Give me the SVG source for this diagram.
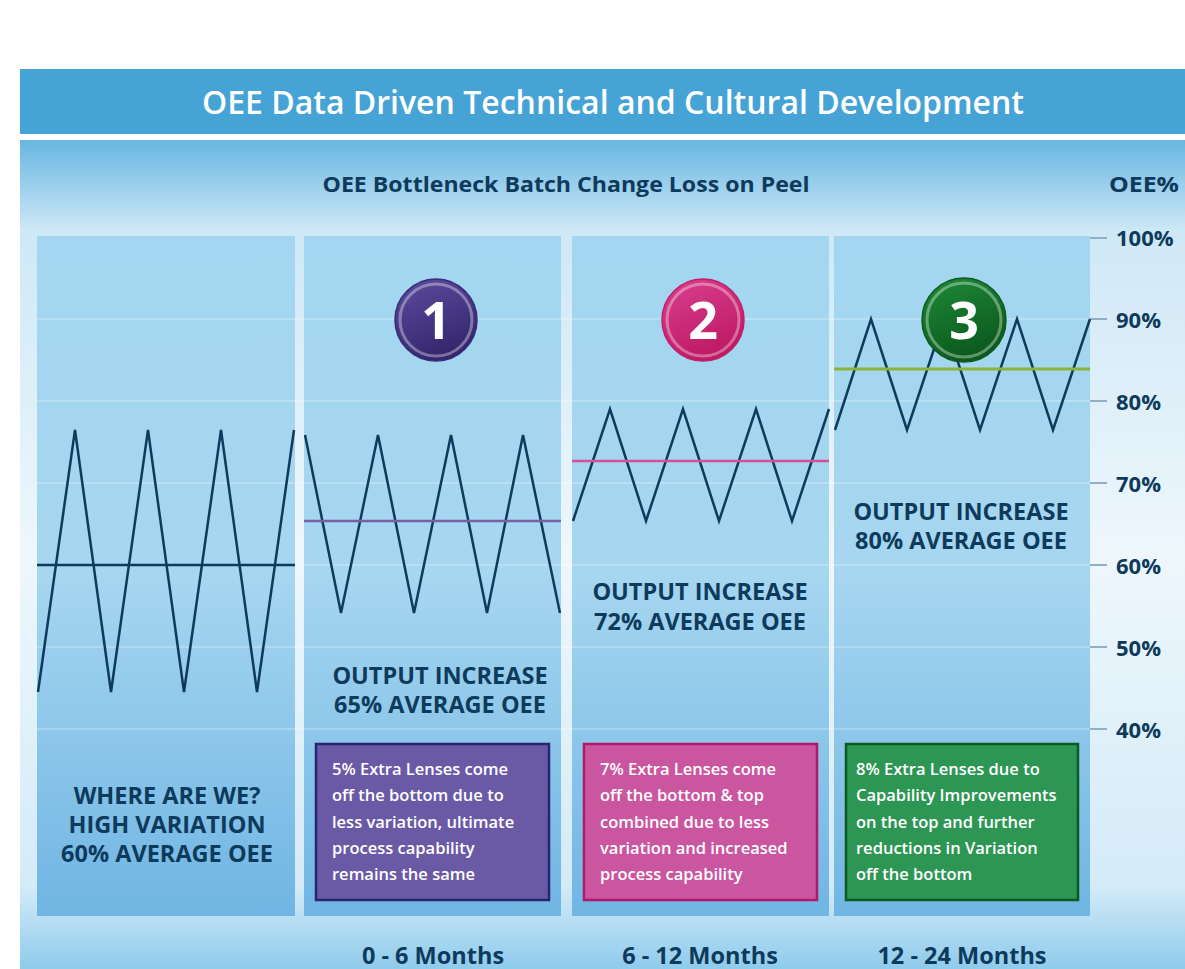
<svg xmlns="http://www.w3.org/2000/svg" width="1185" height="969" viewBox="0 0 1185 969">
<defs>
<linearGradient id="panel" x1="0" y1="140" x2="0" y2="969" gradientUnits="userSpaceOnUse">
<stop offset="0" stop-color="#68b6e2"/>
<stop offset="0.11" stop-color="#cfe8f6"/>
<stop offset="0.5" stop-color="#eef7fc"/>
<stop offset="0.9" stop-color="#d4ebf8"/>
<stop offset="1" stop-color="#8fcbec"/>
</linearGradient>
<linearGradient id="col" x1="0" y1="236" x2="0" y2="916" gradientUnits="userSpaceOnUse">
<stop offset="0" stop-color="#a3d6f0"/>
<stop offset="0.5" stop-color="#a6d6f0"/>
<stop offset="1" stop-color="#70b5e3"/>
</linearGradient>
<linearGradient id="g1" x1="0" y1="0" x2="0.4" y2="1">
<stop offset="0" stop-color="#5d4d9f"/>
<stop offset="1" stop-color="#35266f"/>
</linearGradient>
<linearGradient id="g2" x1="0" y1="0" x2="0.4" y2="1">
<stop offset="0" stop-color="#d8418f"/>
<stop offset="1" stop-color="#bf1a66"/>
</linearGradient>
<linearGradient id="g3" x1="0" y1="0" x2="0.4" y2="1">
<stop offset="0" stop-color="#1f8a3a"/>
<stop offset="1" stop-color="#0b5a1c"/>
</linearGradient>
<style>
.t{font-family:"Open Sans","Liberation Sans",sans-serif;font-weight:700;fill:#0e3a5c;}
.big{font-size:23.5px;text-anchor:middle;}
.ax{font-size:22px;}
.box{font-family:"Open Sans","Liberation Sans",sans-serif;font-weight:600;font-size:16.5px;fill:#ffffff;}
.zig{fill:none;stroke:#0e3a5c;stroke-width:2.5;stroke-linejoin:miter;}
.grid{stroke:#ffffff;stroke-opacity:0.45;stroke-width:1.2;}
.tick{stroke:#93afc4;stroke-width:2;}
.num{font-family:"Open Sans","Liberation Sans",sans-serif;font-weight:700;font-size:52px;fill:#ffffff;text-anchor:middle;}
.ring{fill:none;stroke:#ffffff;stroke-opacity:0.35;stroke-width:3;}
</style>
</defs>
<rect x="0" y="0" width="1185" height="969" fill="#ffffff"/>
<g id="header">
<rect x="20" y="69" width="1165" height="65" fill="#45a3d6"/>
<text x="613" y="114" font-family="Open Sans, Liberation Sans, sans-serif" font-weight="600" font-size="32" fill="#ffffff" text-anchor="middle" textLength="822" lengthAdjust="spacingAndGlyphs">OEE Data Driven Technical and Cultural Development</text>
</g>
<g id="panel">
<rect x="20" y="140" width="1165" height="829" fill="url(#panel)"/>
<text class="t" x="566" y="192" font-size="21" text-anchor="middle" textLength="487" lengthAdjust="spacingAndGlyphs">OEE Bottleneck Batch Change Loss on Peel</text>
<text class="t" x="1109" y="192" font-size="21" textLength="70" lengthAdjust="spacingAndGlyphs">OEE%</text>
</g>
<g id="columns">
<rect x="37" y="236" width="258" height="680" fill="url(#col)"/>
<rect x="304" y="236" width="257" height="680" fill="url(#col)"/>
<rect x="572" y="236" width="257" height="680" fill="url(#col)"/>
<rect x="834" y="236" width="256" height="680" fill="url(#col)"/>
</g>
<g id="gridlines">
<line class="grid" x1="37" y1="319" x2="1090" y2="319"/>
<line class="grid" x1="37" y1="401" x2="1090" y2="401"/>
<line class="grid" x1="37" y1="483" x2="1090" y2="483"/>
<line class="grid" x1="37" y1="565" x2="1090" y2="565"/>
<line class="grid" x1="37" y1="647" x2="1090" y2="647"/>
<line class="grid" x1="37" y1="729" x2="1090" y2="729"/>
</g>
<g id="axis">
<line class="tick" x1="1090" y1="238" x2="1107" y2="238"/>
<line class="tick" x1="1090" y1="319" x2="1107" y2="319"/>
<line class="tick" x1="1090" y1="401" x2="1107" y2="401"/>
<line class="tick" x1="1090" y1="483" x2="1107" y2="483"/>
<line class="tick" x1="1090" y1="565" x2="1107" y2="565"/>
<line class="tick" x1="1090" y1="647" x2="1107" y2="647"/>
<line class="tick" x1="1090" y1="729" x2="1107" y2="729"/>
<text class="t ax" x="1116" y="246">100%</text>
<text class="t ax" x="1116" y="328">90%</text>
<text class="t ax" x="1116" y="410">80%</text>
<text class="t ax" x="1116" y="492">70%</text>
<text class="t ax" x="1116" y="574">60%</text>
<text class="t ax" x="1116" y="656">50%</text>
<text class="t ax" x="1116" y="738">40%</text>
</g>
<g id="series">
<polyline class="zig" points="38,692 75,430 111,692 148,430 184,692 221,430 257,692 294,430"/>
<line x1="37" y1="565" x2="295" y2="565" stroke="#0e3a5c" stroke-width="2.5"/>
<polyline class="zig" points="305,435 341,613 378,435 414,613 451,435 487,613 523,435 560,613"/>
<line x1="304" y1="521" x2="561" y2="521" stroke="#7a5fa8" stroke-width="2.5"/>
<polyline class="zig" points="573,521 610,409 646,521 683,409 719,521 756,409 792,521 829,409"/>
<line x1="572" y1="461" x2="829" y2="461" stroke="#d94e96" stroke-width="2.5"/>
<polyline class="zig" points="835,430 871,319 907,430 944,319 980,430 1017,319 1053,430 1090,319"/>
<line x1="834" y1="369" x2="1090" y2="369" stroke="#8db43a" stroke-width="3"/>
</g>
<g id="badge1">
<circle cx="436" cy="320" r="41" fill="url(#g1)" stroke="#3a2b78" stroke-width="1.5"/>
<circle class="ring" cx="436" cy="320" r="36"/>
<text class="num" x="436" y="339">1</text>
</g>
<g id="badge2">
<circle cx="703" cy="320" r="41" fill="url(#g2)" stroke="#c21e69" stroke-width="1.5"/>
<circle class="ring" cx="703" cy="320" r="36"/>
<text class="num" x="703" y="339">2</text>
</g>
<g id="badge3">
<circle cx="964" cy="320" r="42" fill="url(#g3)" stroke="#0c5a1e" stroke-width="1.5"/>
<circle class="ring" cx="964" cy="320" r="37"/>
<text class="num" x="964" y="339">3</text>
</g>
<g id="col1-label">
<text class="t big" x="167" y="804">WHERE ARE WE?</text>
<text class="t big" x="167" y="833">HIGH VARIATION</text>
<text class="t big" x="167" y="862">60% AVERAGE OEE</text>
</g>
<g id="col2-label">
<text class="t big" x="440" y="684">OUTPUT INCREASE</text>
<text class="t big" x="440" y="713">65% AVERAGE OEE</text>
</g>
<g id="col3-label">
<text class="t big" x="700" y="600">OUTPUT INCREASE</text>
<text class="t big" x="700" y="630">72% AVERAGE OEE</text>
</g>
<g id="col4-label">
<text class="t big" x="961" y="520">OUTPUT INCREASE</text>
<text class="t big" x="961" y="549">80% AVERAGE OEE</text>
</g>
<g id="box1">
<rect x="316" y="744" width="233" height="156" fill="#6a5aa6" stroke="#2a2470" stroke-width="2.5"/>
<text class="box" x="332" y="775">5% Extra Lenses come</text>
<text class="box" x="332" y="801">off the bottom due to</text>
<text class="box" x="332" y="828">less variation, ultimate</text>
<text class="box" x="332" y="854">process capability</text>
<text class="box" x="332" y="880">remains the same</text>
</g>
<g id="box2">
<rect x="584" y="744" width="233" height="156" fill="#cb56a0" stroke="#b3176a" stroke-width="2.5"/>
<text class="box" x="600" y="775">7% Extra Lenses come</text>
<text class="box" x="600" y="801">off the bottom &amp; top</text>
<text class="box" x="600" y="828">combined due to less</text>
<text class="box" x="600" y="854">variation and increased</text>
<text class="box" x="600" y="880">process capability</text>
</g>
<g id="box3">
<rect x="846" y="744" width="232" height="156" fill="#2e9655" stroke="#0d5a1e" stroke-width="2.5"/>
<text class="box" x="856" y="775">8% Extra Lenses due to</text>
<text class="box" x="856" y="801">Capability Improvements</text>
<text class="box" x="856" y="828">on the top and further</text>
<text class="box" x="856" y="854">reductions in Variation</text>
<text class="box" x="856" y="880">off the bottom</text>
</g>
<g id="timeline">
<text class="t big" x="433" y="964">0 - 6 Months</text>
<text class="t big" x="700" y="964">6 - 12 Months</text>
<text class="t big" x="962" y="964">12 - 24 Months</text>
</g>
</svg>
